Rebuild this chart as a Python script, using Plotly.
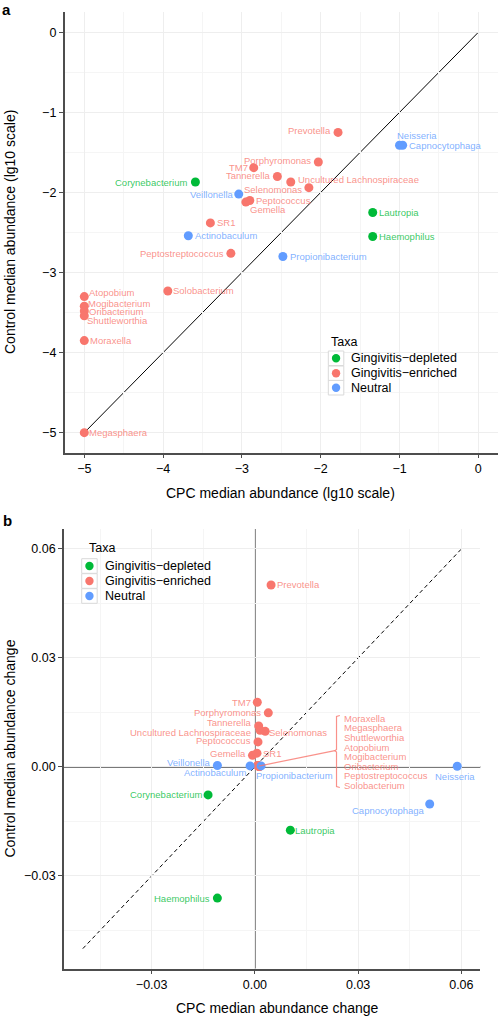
import plotly.graph_objects as go

# ---------------- data ----------------
taxa = ["Prevotella", "Porphyromonas", "TM7", "Tannerella", "Uncultured Lachnospiraceae",
        "Selenomonas", "Peptococcus", "Gemella", "SR1", "Peptostreptococcus",
        "Solobacterium", "Atopobium", "Mogibacterium", "Oribacterium", "Shuttleworthia",
        "Moraxella", "Megasphaera",
        "Neisseria", "Capnocytophaga", "Veillonella", "Actinobaculum", "Propionibacterium",
        "Corynebacterium", "Lautropia", "Haemophilus"]
group = (["Gingivitis-enriched"] * 17 + ["Neutral"] * 5 + ["Gingivitis-depleted"] * 3)

# panel a: lg10 median abundance
cpc_lg10 = [-1.78, -2.03, -2.85, -2.55, -2.38, -2.15, -2.90, -2.95, -3.40, -3.14,
            -3.94, -5.00, -5.00, -5.00, -5.00, -5.00, -5.00,
            -1.00, -0.96, -3.04, -3.68, -2.48,
            -3.59, -1.34, -1.34]
control_lg10 = [-1.25, -1.62, -1.69, -1.80, -1.87, -1.94, -2.10, -2.12, -2.38, -2.76,
                -3.23, -3.30, -3.42, -3.48, -3.54, -3.85, -5.00,
                -1.41, -1.41, -2.02, -2.54, -2.80,
                -1.87, -2.25, -2.55]

# panel b: median abundance change
cpc_change = [0.0047, 0.0039, 0.0007, 0.0011, 0.0015, 0.0030, 0.0009, -0.0007, 0.0006, 0.0008,
              0.0012, 0.0010, 0.0011, 0.0013, 0.0009, 0.0014, 0.0012,
              0.0588, 0.0508, -0.0109, -0.0014, 0.0018,
              -0.0136, 0.0103, -0.0109]
control_change = [0.0501, 0.0149, 0.0178, 0.0113, 0.0101, 0.0098, 0.0069, 0.0032, 0.0038, 0.0004,
                  0.0001, 0.0003, 0.0003, 0.0002, 0.0004, 0.0002, 0.0001,
                  0.0002, -0.0102, 0.0004, 0.0003, 0.0003,
                  -0.0077, -0.0174, -0.0361]

# taxa grouped in the bracket label of panel b
bracket_taxa = ["Moraxella", "Megasphaera", "Shuttleworthia", "Atopobium", "Mogibacterium",
                "Oribacterium", "Peptostreptococcus", "Solobacterium"]

groups_order = ["Gingivitis-depleted", "Gingivitis-enriched", "Neutral"]
legend_labels = ["Gingivitis\u2212depleted", "Gingivitis\u2212enriched", "Neutral"]

# ---------------- styles ----------------
COL = {"Gingivitis-depleted": (0, 186, 56), "Gingivitis-enriched": (248, 118, 109),
       "Neutral": (97, 156, 255)}
def solid(g):
    r, gg, b = COL[g]
    return f"rgb({r},{gg},{b})"
def soft(g, a=0.8):
    r, gg, b = COL[g]
    return f"rgba({r},{gg},{b},{a})"

FONT = "Liberation Sans, Arial, sans-serif"
W, H = 499, 1018
def PX(x):
    return x / W
def PY(y):
    return 1 - y / H

# label placement (anchor, dx px, dy px)
lab_a = {
    "Prevotella": ("right", -6, 2), "Neisseria": ("left", -4, 10), "Capnocytophaga": ("left", 5, 0),
    "Porphyromonas": ("right", -6, 2), "TM7": ("right", -5, 0), "Tannerella": ("right", -5, 1),
    "Uncultured Lachnospiraceae": ("left", 6, 3), "Selenomonas": ("right", -6, -2),
    "Corynebacterium": ("right", -7, 0), "Veillonella": ("right", -5, 0),
    "Peptococcus": ("left", 5, 0), "Gemella": ("left", 3, -7), "SR1": ("left", 6, 0),
    "Actinobaculum": ("left", 6, 0), "Lautropia": ("left", 5, 0), "Haemophilus": ("left", 5, 0),
    "Peptostreptococcus": ("right", -6, 0), "Propionibacterium": ("left", 6, 0),
    "Solobacterium": ("left", 4, 0), "Atopobium": ("left", 4, 4), "Mogibacterium": ("left", 3, 3),
    "Oribacterium": ("left", 4, -1), "Shuttleworthia": ("left", 2, -5), "Moraxella": ("left", 5, 0),
    "Megasphaera": ("left", 4, 0),
}
lab_b = {
    "Prevotella": ("left", 5, 0), "TM7": ("right", -5, 0), "Porphyromonas": ("right", -6, 0),
    "Tannerella": ("right", -6, 3), "Uncultured Lachnospiraceae": ("right", -8, -2),
    "Selenomonas": ("left", 3, -1), "Peptococcus": ("right", -6, 1), "Gemella": ("right", -5, 2),
    "SR1": ("left", 5, 0), "Veillonella": ("right", -6, 3), "Actinobaculum": ("right", -3, -7),
    "Propionibacterium": ("left", -6, -10), "Corynebacterium": ("right", -5, 0),
    "Capnocytophaga": ("right", -4, -6), "Neisseria": ("center", -2, -10),
    "Lautropia": ("left", 4, 0), "Haemophilus": ("right", -6, 0),
}

# ---------------- figure ----------------
fig = go.Figure()

for g in groups_order:
    idx = [i for i, gg in enumerate(group) if gg == g]
    fig.add_trace(go.Scatter(
        x=[cpc_lg10[i] for i in idx], y=[control_lg10[i] for i in idx],
        mode="markers", marker=dict(size=9, color=solid(g)), showlegend=False,
        xaxis="x", yaxis="y", hoverinfo="skip"))
    fig.add_trace(go.Scatter(
        x=[cpc_change[i] for i in idx], y=[control_change[i] for i in idx],
        mode="markers", marker=dict(size=9, color=solid(g)), showlegend=False,
        xaxis="x2", yaxis="y2", hoverinfo="skip"))

annotations = []
shapes = []

# diagonal reference lines
shapes.append(dict(type="line", xref="x", yref="y", x0=-5, y0=-5, x1=0, y1=0,
                   line=dict(color="black", width=1), layer="below"))
shapes.append(dict(type="line", xref="x2", yref="y2", x0=-0.05, y0=-0.05, x1=0.06, y1=0.06,
                   line=dict(color="black", width=1, dash="4px,3px"), layer="below"))
shapes.append(dict(type="line", xref="x2 domain", yref="y2", x0=0, x1=1, y0=0, y1=0,
                   line=dict(color="#4d4d4d", width=1.5), layer="below"))
shapes.append(dict(type="line", xref="x2", yref="y2 domain", x0=0, x1=0, y0=0, y1=1,
                   line=dict(color="#4d4d4d", width=1.5), layer="below"))

# point labels
for i, t in enumerate(taxa):
    g = group[i]
    if t in lab_a:
        anc, dx, dy = lab_a[t]
        annotations.append(dict(xref="x", yref="y", x=cpc_lg10[i], y=control_lg10[i], text=t,
                                showarrow=False, xanchor=anc, yanchor="middle", xshift=dx, yshift=dy,
                                borderpad=0, font=dict(family=FONT, size=9.5, color=soft(g))))
    if t in lab_b:
        anc, dx, dy = lab_b[t]
        annotations.append(dict(xref="x2", yref="y2", x=cpc_change[i], y=control_change[i], text=t,
                                showarrow=False, xanchor=anc, yanchor="middle", xshift=dx, yshift=dy,
                                borderpad=0, font=dict(family=FONT, size=9.5, color=soft(g))))

# bracket group in panel b
bcol = soft("Gingivitis-enriched")
bi = [taxa.index(t) for t in bracket_taxa]
cx = sum(cpc_change[i] for i in bi) / len(bi)
cy = sum(control_change[i] for i in bi) / len(bi)
shapes.append(dict(type="line", xref="x2", yref="y2", x0=cx, y0=cy, x1=0.02323, y1=0.00449,
                   line=dict(color=bcol, width=1.2)))
shapes.append(dict(type="path", xref="x2", yref="y2",
                   path="M 0.02468,0.01418 L 0.02372,0.0139 L 0.02372,0.00482 L 0.02323,0.00449 "
                        "L 0.02372,0.00413 L 0.02372,-0.00537 L 0.02468,-0.00564",
                   line=dict(color=bcol, width=1.2)))
for k, t in enumerate(bracket_taxa):
    annotations.append(dict(xref="paper", yref="paper", x=PX(343), y=PY(718.3 + 9.57 * k), text=t,
                            showarrow=False, xanchor="left", yanchor="middle", borderpad=0,
                            font=dict(family=FONT, size=9.5, color=bcol)))

# manual legends
def add_legend(box_left, title_x, title_y, ys, text_x):
    annotations.append(dict(xref="paper", yref="paper", x=PX(title_x), y=PY(title_y), text="Taxa",
                            showarrow=False, xanchor="left", yanchor="middle", borderpad=0,
                            font=dict(family=FONT, size=12.5, color="black")))
    for g, lbl, yy in zip(groups_order, legend_labels, ys):
        shapes.append(dict(type="rect", xref="paper", yref="paper",
                           x0=PX(box_left), x1=PX(box_left + 15.5), y0=PY(yy + 7.3), y1=PY(yy - 7.3),
                           line=dict(color="#d9d9d9", width=1), fillcolor="white"))
        cxp = box_left + 7.75
        shapes.append(dict(type="circle", xref="paper", yref="paper",
                           x0=PX(cxp - 4.2), x1=PX(cxp + 4.2), y0=PY(yy + 4.2), y1=PY(yy - 4.2),
                           line=dict(width=0), fillcolor=solid(g)))
        annotations.append(dict(xref="paper", yref="paper", x=PX(text_x), y=PY(yy), text=lbl,
                                showarrow=False, xanchor="left", yanchor="middle", borderpad=0,
                                font=dict(family=FONT, size=12.5, color="black")))

add_legend(328.3, 329.5, 341.7, [358.3, 373.3, 387.7], 349.5)
add_legend(81.7, 88.0, 547.7, [566, 581, 596], 104.0)

# axis titles and panel tags
def title(text, x, y, angle=0):
    annotations.append(dict(xref="paper", yref="paper", x=PX(x), y=PY(y), text=text, textangle=angle,
                            showarrow=False, xanchor="center", yanchor="middle",
                            font=dict(family=FONT, size=14, color="black")))

title("CPC median abundance (lg10 scale)", 280, 493.3)
title("Control median abundance (lg10 scale)", 9.5, 232.5, -90)
title("CPC median abundance change", 277.5, 1008.3)
title("Control median abundance change", 9.5, 749, -90)
annotations.append(dict(xref="paper", yref="paper", x=PX(1), y=PY(0), text="<b>a</b>", showarrow=False,
                        xanchor="left", yanchor="top", borderpad=0,
                        font=dict(family=FONT, size=15, color="black")))
annotations.append(dict(xref="paper", yref="paper", x=PX(1), y=PY(520), text="<b>b</b>", showarrow=False,
                        xanchor="left", yanchor="middle", font=dict(family=FONT, size=15, color="black")))

axis_common = dict(showline=True, linecolor="#4d4d4d", linewidth=1.5, mirror=False,
                   ticks="outside", ticklen=4, tickcolor="#4d4d4d", tickwidth=1,
                   tickfont=dict(family=FONT, size=12.5, color="black"), automargin=False,
                   showgrid=True, gridcolor="#eeeeee", gridwidth=1, zeroline=False)

fig.update_layout(
    template="none",
    width=W, height=H, margin=dict(l=0, r=0, t=0, b=0, pad=0), autosize=False,
    paper_bgcolor="white", plot_bgcolor="white", showlegend=False,
    font=dict(family=FONT),
    xaxis=dict(domain=[PX(64.6), PX(498)], range=[-5.25, 0.25], dtick=1, tick0=0, anchor="y",
               minor=dict(dtick=0.5, showgrid=True, gridcolor="#f5f5f5"), **axis_common),
    yaxis=dict(domain=[PY(452.7), PY(12.3)], range=[-5.25, 0.25], dtick=1, tick0=0, anchor="x",
               minor=dict(dtick=0.5, showgrid=True, gridcolor="#f5f5f5"), **axis_common),
    xaxis2=dict(domain=[PX(63.9), PX(480.3)], range=[-0.0555, 0.0655], dtick=0.03, tick0=0,
                tickformat=".2f", anchor="y2",
                minor=dict(dtick=0.015, showgrid=True, gridcolor="#f5f5f5"), **axis_common),
    yaxis2=dict(domain=[PY(968.6), PY(529)], range=[-0.0555, 0.0655], dtick=0.03, tick0=0,
                tickformat=".2f", anchor="x2",
                minor=dict(dtick=0.015, showgrid=True, gridcolor="#f5f5f5"), **axis_common),
    annotations=annotations, shapes=shapes,
)

fig.write_html("out.html", config={"displayModeBar": False},
               post_script="document.body.style.margin='0';document.body.style.overflow='hidden';")
